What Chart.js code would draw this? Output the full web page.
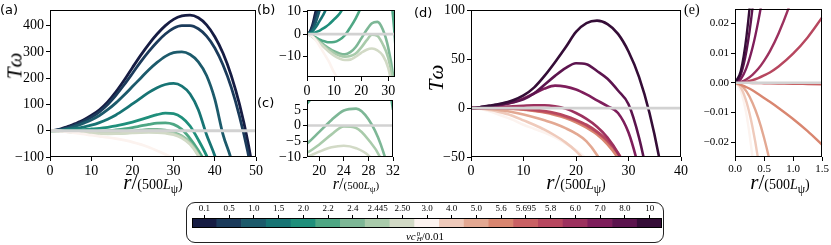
<!DOCTYPE html>
<html>
<head>
<meta charset="utf-8">
<script src="https://cdn.jsdelivr.net/npm/chart.js@4.4.0/dist/chart.umd.min.js"></script>
<style>
body { margin:0; background:#fff; }
#wrap { position:relative; width:831px; height:245px; overflow:hidden; }
canvas { position:absolute; }
.t { position:absolute; white-space:nowrap; line-height:1; color:#000; }
.c { transform:translate(-50%,-50%); }
.pl { font-family:"DejaVu Sans", sans-serif; font-size:13px; }
.yl { font-family:"Liberation Serif", serif; font-style:italic; font-size:21px; transform:translate(-50%,-50%) rotate(-90deg); }
.xl { font-family:"Liberation Serif", serif; font-size:21px; }
.xl span { font-size:14px; }
.xs { font-size:16px; }
.xs span { font-size:11px; }
#cbbox { position:absolute; left:186px; top:202px; width:476px; height:39px; border:1.3px solid #222; border-radius:9px; }
#cbl { font-family:"Liberation Serif", serif; font-size:11px; }
.stk { display:inline-block; vertical-align:middle; line-height:0.85; font-size:7px; text-align:left; margin-left:1px; }
.stk b { display:block; font-weight:normal; }
</style>
</head>
<body>
<div id="wrap">
  <div id="cbbox"></div>
  <canvas id="pa" width="265" height="175" style="left:0;top:0"></canvas>
  <canvas id="pb" width="140" height="95" style="left:262px;top:0"></canvas>
  <canvas id="pc" width="140" height="85" style="left:262px;top:90px"></canvas>
  <canvas id="pd" width="250" height="175" style="left:440px;top:0"></canvas>
  <canvas id="pe" width="141" height="175" style="left:690px;top:0"></canvas>
  <canvas id="cb" width="484" height="26" style="left:185px;top:203px"></canvas>

  <div class="t pl" style="left:0;top:3px">(a)</div>
  <div class="t pl" style="left:257px;top:3px">(b)</div>
  <div class="t pl" style="left:257px;top:96px">(c)</div>
  <div class="t pl" style="left:414px;top:6px">(d)</div>
  <div class="t" style="left:684px;top:3px;font-family:'Liberation Serif',serif;font-size:14px">(e)</div>

  <div class="t yl" style="left:15px;top:66px">T&omega;</div>
  <div class="t yl" style="left:436px;top:78px">T&omega;</div>

  <div class="t c xl" style="left:153px;top:184px"><i>r</i>/<span>(500<i>L</i><sub>&psi;</sub>)</span></div>
  <div class="t c xl xs" style="left:356px;top:185px"><i>r</i>/<span>(500<i>L</i><sub>&psi;</sub>)</span></div>
  <div class="t c xl" style="left:576px;top:184px"><i>r</i>/<span>(500<i>L</i><sub>&psi;</sub>)</span></div>
  <div class="t c xl" style="left:780px;top:184px"><i>r</i>/<span>(500<i>L</i><sub>&psi;</sub>)</span></div>

  <div id="cbl" class="t c" style="left:425px;top:237px"><i>&nu;c</i><span class="stk"><b>0</b><b><i>H</i></b></span>/0.01</div>
</div>
<script>
// colour scale: nu c_H^0 / 0.01
var nuLabels = ['0.1','0.5','1.0','1.5','2.0','2.2','2.4','2.445','2.50','3.0',
                '4.0','5.0','5.6','5.695','5.8','6.0','7.0','8.0','10'];
var cbColors = ['#161c43','#1b3b5b','#1c5a6b','#177474','#1f8f7b','#4ea784','#7db796','#a9cbab','#d2dac6','#fcf3ef',
                '#efcabb','#e3a892','#d98670','#c96164','#b7475f','#9c315e','#7e1e5b','#5c144e','#350d37'];

// radius r/(500 L_psi)
var rVals = [0,1,2,3,4,5,6,7,8,10,12,14,16,18,20,22,24,26,28,30,32,34,36,38,40,42,44,46,48,50];

var tw01  = [0,1,4,9,14,20,26,33,40,58,80,110,148,192,240,287,330,368,400,424,437,440,430,403,358,295,210,100,-40,-220];
var tw05  = [0,0.8,3,7,11,16,22,28,35,51,72,100,135,175,218,262,302,338,368,390,400,400,388,360,315,250,165,55,-80,-250];
var tw10  = [0,0.5,2,4.5,8,12,17,22,28,41,58,80,106,136,168,200,232,260,283,297,300,290,262,210,120,-15,-110,-250,-420,-600];
var tw15  = [0,0.3,1.2,2.7,4.5,6.5,8.5,11,14,21,31,44,60,80,102,124,146,164,176,180,170,140,80,-15,-95,-200,-330,-480,-650,-850];
var tw20  = [0,0.1,0.3,0.7,1.2,1.8,2.5,3.3,4.2,6.5,9,13,18,25,33,42,52,61,67,65,50,18,-35,-95,-170,-270,-380,-500,-640,-800];
var tw22  = [0,-0.2,-0.7,-1.3,-2,-2.6,-3.1,-3.4,-3.6,-3.5,-2.5,-0.5,3,7,12,18,24,29,30,24,5,-30,-75,-130,-200,-280,-380,-500,-640,-800];
var tw24  = [0,-0.3,-1,-1.8,-2.7,-3.6,-4.5,-5.4,-6.2,-7.6,-8.6,-9,-8,-5.7,-2,1.8,4.8,5.4,2,-6,-20,-45,-90,-150,-230,-320,-420,-540,-680,-840];
var tw2445= [0,-0.3,-1.1,-2,-3,-4,-5,-6,-6.9,-8.4,-9.5,-10,-9.7,-8.6,-6,-2.8,-0.3,-0.8,-4.5,-10.5,-23,-48,-92,-150,-230,-320,-420,-540,-680,-840];
var tw250 = [0,-0.4,-1.2,-2.2,-3.3,-4.4,-5.5,-6.6,-7.7,-9.5,-10.8,-11.5,-11.3,-10,-8.3,-6.9,-6.4,-7.2,-9.5,-15,-28,-52,-95,-155,-235,-325,-425,-545,-685,-845];
var tw30  = [0,-0.28,-1.1,-2.4,-4,-6,-8,-10,-12,-17,-21,-25,-30,-36,-43,-52,-63,-76,-90,-105,-125,-150,-180,-215,-255,-300,-350,-405,-465,-530];
var tw40  = [0,-0.16,-0.6,-1.3,-2.2,-3.3,-4.6,-6.2,-8,-12.5,-17,-22,-28,-35,-44,-56,-72,-92,-118,-150,-190,-235,-285,-340,-400,-465,-535,-610,-690,-775];
var tw50  = [0,-0.07,-0.28,-0.6,-1,-1.6,-2.3,-3.2,-4.2,-6.6,-9.3,-12.5,-16,-20.5,-26,-34,-48,-68,-95,-130,-170,-215,-265,-320,-380,-445,-515,-590,-670,-755];
var tw56  = [0,-0.012,-0.05,-0.1,-0.18,-0.28,-0.4,-0.6,-0.8,-1.6,-2.8,-4.5,-7,-10.2,-14.5,-20,-27,-37,-51,-70,-96,-130,-170,-215,-265,-320,-380,-445,-515,-590];
var tw5695= [0,0,-0.01,-0.04,-0.1,-0.2,-0.3,-0.5,-0.7,-1.3,-2.3,-3.8,-5.8,-8.8,-12.8,-18,-25,-34,-47,-66,-93,-127,-167,-212,-262,-317,-377,-442,-512,-587];
var tw58  = [0,0.01,0.04,0.08,0.12,0.14,0.14,0.1,0,-0.5,-1.5,-3,-5,-8,-12,-17,-24,-33,-46,-65,-92,-126,-166,-211,-261,-316,-376,-441,-511,-586];
var tw60  = [0,0.03,0.12,0.27,0.5,0.8,1.1,1.5,1.9,2.5,3,3,2,-0.5,-5,-11,-19,-30,-46,-70,-100,-135,-175,-220,-270,-325,-385,-450,-520,-595];
var tw70  = [0,0.13,0.5,1,1.7,2.5,3.4,4.5,6,10,15,20,23,22,19,14,8,2,-5,-25,-62,-110,-165,-225,-290,-360,-435,-515,-600,-690];
var tw80  = [0,0.3,1,1.7,2.4,3.2,4,5,6,9,15,24,33,41,46,45,38,30,18,4,-30,-80,-140,-205,-275,-350,-430,-515,-605,-700];
var tw100 = [0,0.4,1.3,2.2,3,4,5,6.3,8,13,21,33,47,62,78,87,89.5,86,76,58,32,-5,-55,-120,-195,-280,-370,-465,-565,-670];

var curves = [tw01,tw05,tw10,tw15,tw20,tw22,tw24,tw2445,tw250,tw30,
              tw40,tw50,tw56,tw5695,tw58,tw60,tw70,tw80,tw100];

// close-up near the origin, panel (e)
var rSmall = [0,0.1,0.2,0.3,0.4,0.5,0.6,0.75,1.0,1.25,1.5];
var e30   = [0,-0.0028,-0.011,-0.025,-0.045,-0.07,-0.1,-0.16,-0.28,-0.44,-0.63];
var e40   = [0,-0.0016,-0.0066,-0.0148,-0.026,-0.041,-0.059,-0.092,-0.16,-0.25,-0.36];
var e50   = [0,-0.0007,-0.003,-0.0067,-0.0118,-0.0185,-0.0266,-0.042,-0.074,-0.116,-0.167];
var e56   = [0,-0.0007,-0.0015,-0.0025,-0.0038,-0.0051,-0.0064,-0.0085,-0.0122,-0.0163,-0.0209];
var e5695 = [0,0,-0.00003,-0.00006,-0.0001,-0.00013,-0.00017,-0.00022,-0.0003,-0.0004,-0.0005];
var e58   = [0,0.0001,0.0004,0.0009,0.0016,0.0025,0.0035,0.0055,0.0098,0.0153,0.022];
var e60   = [0,0.0003,0.0012,0.0027,0.0047,0.0074,0.0106,0.0166,0.0295,0.046,0.066];
var e70   = [0,0.0013,0.0052,0.0117,0.0207,0.032,0.047,0.073,0.13,0.2,0.29];
var e80   = [0,0.0028,0.011,0.025,0.045,0.07,0.1,0.16,0.28,0.44,0.63];
var e100  = [0,0.004,0.016,0.036,0.064,0.1,0.144,0.225,0.4,0.62,0.9];
var eCurves = [e30,e40,e50,e56,e5695,e58,e60,e70,e80,e100];

// tick values
var xTicksA = [0,10,20,30,40,50],  yTicksA = [-100,0,100,200,300,400];
var xTicksB = [0,10,20,30],        yTicksB = [-10,0,10];
var xTicksC = [20,24,28,32],       yTicksC = [-10,-5,0,5];
var xTicksD = [0,10,20,30,40],     yTicksD = [-50,0,50,100];
var xTicksE = [0,0.5,1,1.5],       yTicksE = [-0.02,-0.01,0,0.01,0.02];

var SERIF = 'Liberation Serif';

function pts(xs, ys) {
    return xs.map(function (x, i) { return {x: x, y: ys[i]}; });
}

function fmt(dec) {
    return function (v) { return Number(v).toFixed(dec).replace('-', '\u2212'); };
}

// draws the four spines like matplotlib
var frame = {
    id: 'frame',
    afterDraw: function (c) {
        var a = c.chartArea, ctx = c.ctx;
        ctx.save();
        ctx.strokeStyle = '#000';
        ctx.lineWidth = 1;
        ctx.strokeRect(Math.round(a.left) + 0.5, Math.round(a.top) + 0.5,
                       Math.round(a.right - a.left) - 1, Math.round(a.bottom - a.top) - 1);
        ctx.restore();
    }
};

function axis(pos, min, max, ticks, dec, size, fit) {
    return {
        type: 'linear', position: pos, min: min, max: max,
        afterBuildTicks: function (s) { s.ticks = ticks.map(function (v) { return {value: v}; }); },
        afterFit: function (s) { if (pos === 'bottom') s.height = fit; else s.width = fit; },
        ticks: { color: '#000', font: {family: SERIF, size: size}, padding: 2,
                 maxRotation: 0, autoSkip: false, callback: fmt(dec) },
        grid: { drawOnChartArea: false, drawTicks: true, tickLength: 4, color: '#000', lineWidth: 1 },
        border: { display: false }
    };
}

function panel(id, o) {
    var sets = [{
        data: [{x: o.x[0], y: 0}, {x: o.x[1], y: 0}],
        borderColor: '#d2d2d2', borderWidth: o.lw, pointRadius: 0, order: 0
    }];
    o.lines.forEach(function (l) {
        sets.push({
            data: pts(l.xs, l.ys), borderColor: cbColors[l.k], borderWidth: o.lw,
            pointRadius: 0, cubicInterpolationMode: 'monotone', order: 50 - l.k
        });
    });
    new Chart(document.getElementById(id), {
        type: 'line',
        data: {datasets: sets},
        options: {
            responsive: false, animation: false, events: [],
            layout: {padding: o.pad, autoPadding: false},
            plugins: {legend: {display: false}, tooltip: {enabled: false}},
            scales: {
                x: axis('bottom', o.x[0], o.x[1], o.xt, o.xd, o.fs, o.xh),
                y: axis('left', o.y[0], o.y[1], o.yt, o.yd, o.fs, o.yw)
            }
        },
        plugins: [frame]
    });
}

function pick(from, to) {
    var out = [];
    for (var k = from; k <= to; k++) out.push({k: k, xs: rVals, ys: curves[k]});
    return out;
}

var greens = pick(0, 9), pinks = pick(9, 18);
var pinksE = eCurves.map(function (ys, i) { return {k: 9 + i, xs: rSmall, ys: ys}; });

panel('pa', {x: [0, 50], y: [-100, 458], xt: xTicksA, yt: yTicksA, xd: 0, yd: 0, fs: 14,
             xh: 18, yw: 50, pad: {left: 0, top: 5, right: 8, bottom: 0}, lw: 2.8, lines: greens});
panel('pb', {x: [0, 32.5], y: [-19, 10.5], xt: xTicksB, yt: yTicksB, xd: 0, yd: 0, fs: 14,
             xh: 18, yw: 45, pad: {left: 0, top: 5, right: 7, bottom: 0}, lw: 2.6, lines: greens});
panel('pc', {x: [18, 32], y: [-10, 8], xt: xTicksC, yt: yTicksC, xd: 0, yd: 0, fs: 14,
             xh: 18, yw: 45, pad: {left: 0, top: 8, right: 7, bottom: 0}, lw: 2.6, lines: greens});
panel('pd', {x: [0, 40], y: [-50, 100], xt: xTicksD, yt: yTicksD, xd: 0, yd: 0, fs: 14,
             xh: 18, yw: 31, pad: {left: 0, top: 5, right: 9, bottom: 0}, lw: 2.6, lines: pinks});
panel('pe', {x: [0, 1.5], y: [-0.025, 0.025], xt: xTicksE, yt: yTicksE, xd: 1, yd: 2, fs: 11,
             xh: 18, yw: 45, pad: {left: 0, top: 5, right: 6, bottom: 0}, lw: 2.4, lines: pinksE});

// colour bar
new Chart(document.getElementById('cb'), {
    type: 'bar',
    data: {
        labels: nuLabels,
        datasets: [{
            data: nuLabels.map(function () { return 1; }),
            backgroundColor: cbColors, borderWidth: 0,
            barPercentage: 1, categoryPercentage: 1
        }]
    },
    options: {
        responsive: false, animation: false, events: [],
        layout: {padding: {left: 7, right: 7, top: 0, bottom: 1}, autoPadding: false},
        plugins: {legend: {display: false}, tooltip: {enabled: false}},
        scales: {
            x: {
                position: 'top',
                afterFit: function (s) { s.height = 15; },
                ticks: {color: '#000', font: {family: SERIF, size: 9}, padding: 1, maxRotation: 0, autoSkip: false},
                grid: {drawOnChartArea: false, drawTicks: true, tickLength: 3, color: '#000', offset: false},
                border: {display: false}
            },
            y: {display: false, min: 0, max: 1}
        }
    },
    plugins: [frame]
});
</script>
</body>
</html>
